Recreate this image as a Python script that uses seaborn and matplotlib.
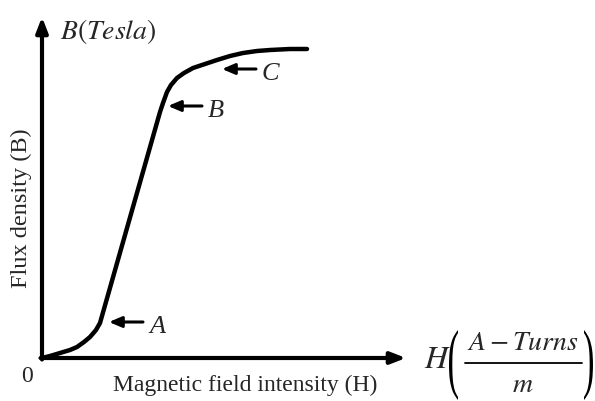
import matplotlib
matplotlib.use("Agg")
import matplotlib.pyplot as plt
import seaborn as sns
import pandas as pd
from matplotlib.textpath import TextPath
from matplotlib.font_manager import FontProperties
from matplotlib.patches import PathPatch
from matplotlib.transforms import Affine2D

sns.set_style("white")
plt.rcParams["font.family"] = ["Liberation Serif", "DejaVu Serif"]
plt.rcParams["mathtext.fontset"] = "stix"

# Magnetization (B-H) curve read as H, B pairs
H_vals = [0, 8, 18, 28, 35, 42, 48, 54, 58,
          118, 121, 125, 129, 135, 142, 151, 163, 175, 188, 201, 215, 228, 248, 265]
B_vals = [0, 2, 5, 8, 11, 16, 21, 28, 35,
          246, 255, 266, 273, 280, 285, 290, 294, 298, 302, 305, 307, 308, 309, 309]

# Region markers: label, arrow tip (H, B)
region_labels = ["A", "B", "C"]
region_tips = [(67, 36), (126, 252), (180, 289)]

df = pd.DataFrame({"H": H_vals, "B": B_vals})

fig = plt.figure(figsize=(5.95, 4.01), dpi=100)
ax = fig.add_axes([0, 0, 1, 1])
ax.set_xlim(-42, 553)
ax.set_ylim(-43, 358)
ax.axis("off")

sns.lineplot(data=df, x="H", y="B", sort=False, estimator=None,
             color="black", lw=3.2, ax=ax)

# Axes with arrow heads
axis_arrow = dict(arrowstyle="-|>,head_length=0.9,head_width=0.35",
                  lw=3, color="black", shrinkA=0, shrinkB=0)
ax.annotate("", xy=(0, 341), xytext=(0, -1.5), arrowprops=axis_arrow)
ax.annotate("", xy=(364, 0), xytext=(-1.5, 0), arrowprops=axis_arrow)

# Region arrows and labels
small_arrow = dict(arrowstyle="-|>,head_length=0.75,head_width=0.32",
                   lw=2.2, color="black", shrinkA=0, shrinkB=0)
for lab, (hx, by) in zip(region_labels, region_tips):
    ax.annotate("", xy=(hx, by), xytext=(hx + 34, by), arrowprops=small_arrow)
    ax.text(hx + 40, by - 5, lab, fontsize=19, style="italic",
            ha="left", va="center")


def tall_glyph(ch, x0, y0, y1, size=28, widen=1.25):
    """Draw a glyph stretched vertically to y0..y1 (slightly widened)."""
    tp = TextPath((0, 0), ch, size=size,
                  prop=FontProperties(family="Liberation Serif"))
    ext = tp.get_extents()
    tr = (Affine2D().translate(-ext.x0, -ext.y0)
          .scale(widen, (y1 - y0) / ext.height)
          .translate(x0, y0))
    ax.add_patch(PathPatch(tr.transform_path(tp), facecolor="black",
                           edgecolor="none"))


# Axis titles
ax.text(18, 327, r"$B(Tesla)$", fontsize=20, ha="left", va="center")

# H unit: H (A-Turns / m) with tall brackets
ax.text(395, -3, r"$H$", fontsize=23, ha="center", va="center")
tall_glyph("(", 407, -42, 28)
ax.text(481, 14, r"$A-Turns$", fontsize=20, ha="center", va="center")
ax.plot([423, 540], [-5, -5], color="black", lw=1.3)
ax.text(481, -28, r"$m$", fontsize=20, ha="center", va="center")
tall_glyph(")", 542, -42, 28)

ax.text(-15, -18, "0", fontsize=17, ha="center", va="center")
ax.text(203, -27, "Magnetic field intensity (H)", fontsize=17,
        ha="center", va="center")
ax.text(-21, 150, "Flux density (B)", fontsize=17.5, rotation=90,
        ha="center", va="center")

fig.savefig("out.png", dpi=100)
